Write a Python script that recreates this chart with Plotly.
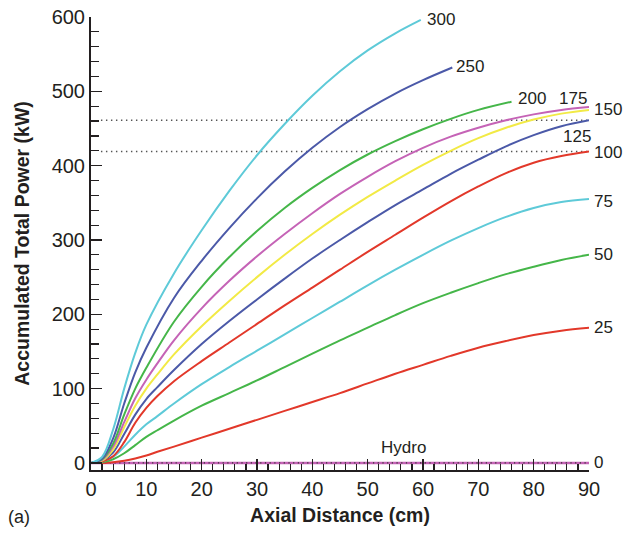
import plotly.graph_objects as go

# ---------------- data ----------------
x_long = [0, 2, 4, 6, 8, 10, 12, 15, 20, 25, 30, 35, 40, 45, 50, 55, 60, 65, 70, 75, 80, 85, 90]
p25  = [0, 0, 1, 3, 6, 10, 15, 22, 34, 46, 58, 70, 82, 94, 107, 120, 132, 144, 155, 164, 172, 178, 182]
p50  = [0, 1, 5, 13, 24, 35, 44, 57, 77, 94, 111, 129, 147, 165, 182, 199, 215, 229, 242, 254, 264, 273, 280]
p75  = [0, 2, 8, 22, 38, 52, 63, 80, 106, 129, 151, 173, 195, 217, 239, 260, 280, 299, 316, 331, 343, 351, 355]
p100 = [0, 2, 9, 28, 54, 74, 90, 110, 137, 162, 187, 212, 236, 260, 284, 307, 330, 352, 372, 390, 404, 413, 419]
p125 = [0, 3, 14, 39, 65, 86, 102, 125, 160, 191, 220, 248, 275, 300, 324, 347, 368, 389, 408, 426, 441, 453, 461]
p150 = [0, 3, 18, 48, 77, 100, 119, 146, 184, 218, 250, 280, 308, 334, 358, 380, 401, 420, 437, 451, 462, 470, 475]
p175 = [0, 4, 22, 55, 87, 112, 134, 165, 208, 245, 278, 308, 336, 362, 385, 406, 424, 439, 451, 461, 469, 475, 479]

x_200 = [0, 2, 4, 6, 8, 10, 15, 20, 25, 30, 35, 40, 45, 50, 55, 60, 65, 70, 76]
p200  = [0, 5, 26, 65, 100, 128, 190, 237, 277, 312, 343, 370, 394, 415, 433, 449, 463, 475, 486]

x_250 = [0, 2, 4, 6, 8, 10, 15, 20, 25, 30, 35, 40, 45, 50, 55, 60, 65.3]
p250  = [0, 6, 33, 80, 122, 155, 222, 272, 316, 356, 392, 424, 452, 476, 497, 515, 532]

x_300 = [0, 2, 4, 6, 8, 10, 15, 20, 25, 30, 35, 40, 45, 50, 55, 59.6]
p300  = [0, 8, 45, 100, 148, 186, 255, 313, 366, 414, 456, 494, 527, 555, 578, 596]

x_hydro = [0, 90]
p_hydro = [0, 0]

ref_levels = [461, 419]
ref_x = [1.8, 90]

x_ticks = [0, 10, 20, 30, 40, 50, 60, 70, 80, 90]
y_ticks = [0, 100, 200, 300, 400, 500, 600]

curves = [
    ("25", x_long, p25, "#e2382a"),
    ("50", x_long, p50, "#45b649"),
    ("75", x_long, p75, "#5ecad8"),
    ("100", x_long, p100, "#e2382a"),
    ("125", x_long, p125, "#4b59a8"),
    ("150", x_long, p150, "#f2ea45"),
    ("175", x_long, p175, "#c563b6"),
    ("200", x_200, p200, "#45b649"),
    ("250", x_250, p250, "#4b59a8"),
    ("300", x_300, p300, "#5ecad8"),
]

# label positions (data coords), anchor, pixel shift
labels = [
    ("300", 60.3, 596, "left", 0),
    ("250", 65.6, 533, "left", 0),
    ("200", 76.8, 491, "left", 0),
    ("175", 87.1, 491, "center", 0),
    ("150", 90, 475, "left", 3),
    ("125", 87.8, 439, "center", 0),
    ("100", 90, 418, "left", 3),
    ("75", 90, 352, "left", 3),
    ("50", 90, 280, "left", 3),
    ("25", 90, 182, "left", 3),
    ("0", 90, 0, "left", 3),
    ("Hydro", 56.5, 21, "center", 0),
]

INK = "#231f20"
FONT = "Liberation Sans"
L, R, T, B = 91, 37, 17, 63
W, H = 626, 533

fig = go.Figure()

for lvl in ref_levels:
    fig.add_trace(go.Scatter(x=ref_x, y=[lvl, lvl], mode="lines",
                             line=dict(color="#555555", width=1.4, dash="1.4px,3.6px"),
                             hoverinfo="skip", showlegend=False))

fig.add_trace(go.Scatter(x=x_hydro, y=p_hydro, mode="lines",
                         line=dict(color="#c563b6", width=2.5),
                         showlegend=False))
fig.add_trace(go.Scatter(x=x_hydro, y=p_hydro, mode="lines",
                         line=dict(color="#333333", width=1.2, dash="1.2px,3.5px"),
                         showlegend=False))

for name, xs, ys, col in curves:
    fig.add_trace(go.Scatter(x=xs, y=ys, mode="lines", name=name,
                             line=dict(color=col, width=2, shape="spline", smoothing=1.0),
                             showlegend=False))

for txt, lx, ly, anc, shift in labels:
    fig.add_annotation(x=lx, y=ly, xref="x", yref="y", text=txt, showarrow=False,
                       xanchor=anc, yanchor="middle", xshift=shift,
                       font=dict(family=FONT, size=17, color=INK))

fig.add_annotation(x=(19 - L) / (W - L - R), y=(H - B - 517) / (H - T - B),
                   xref="paper", yref="paper", text="(a)", showarrow=False,
                   xanchor="center", yanchor="middle",
                   font=dict(family=FONT, size=18, color=INK))

fig.update_layout(
    width=W, height=H,
    margin=dict(l=L, r=R, t=T, b=B),
    plot_bgcolor="white", paper_bgcolor="white",
    font=dict(family=FONT, color=INK),
    xaxis=dict(range=[0, 90], tickvals=x_ticks, ticks="inside", ticklen=11, tickwidth=1.5,
               tickcolor=INK, showline=True, linewidth=2, linecolor=INK,
               showgrid=False, zeroline=False, automargin=False,
               minor=dict(dtick=2, tick0=0, ticks="inside", ticklen=6, tickwidth=1.2, tickcolor=INK),
               tickfont=dict(family=FONT, size=20, color=INK),
               title=dict(text="<b>Axial Distance (cm)</b>", font=dict(family=FONT, size=19.5, color=INK),
                          standoff=9)),
    yaxis=dict(range=[-9.5, 600], tickvals=y_ticks, ticks="inside", ticklen=11, tickwidth=1.5,
               tickcolor=INK, showline=True, linewidth=2, linecolor=INK,
               showgrid=False, zeroline=False, automargin=False,
               minor=dict(dtick=20, tick0=0, ticks="inside", ticklen=8, tickwidth=1.2, tickcolor=INK),
               tickfont=dict(family=FONT, size=20, color=INK),
               title=dict(text="<b>Accumulated Total Power (kW)</b>", font=dict(family=FONT, size=19.5, color=INK),
                          standoff=17)),
)

fig.write_html("out.html", config={"displayModeBar": False, "staticPlot": True},
               post_script="document.body.style.margin='0px';document.body.style.overflow='hidden';")
